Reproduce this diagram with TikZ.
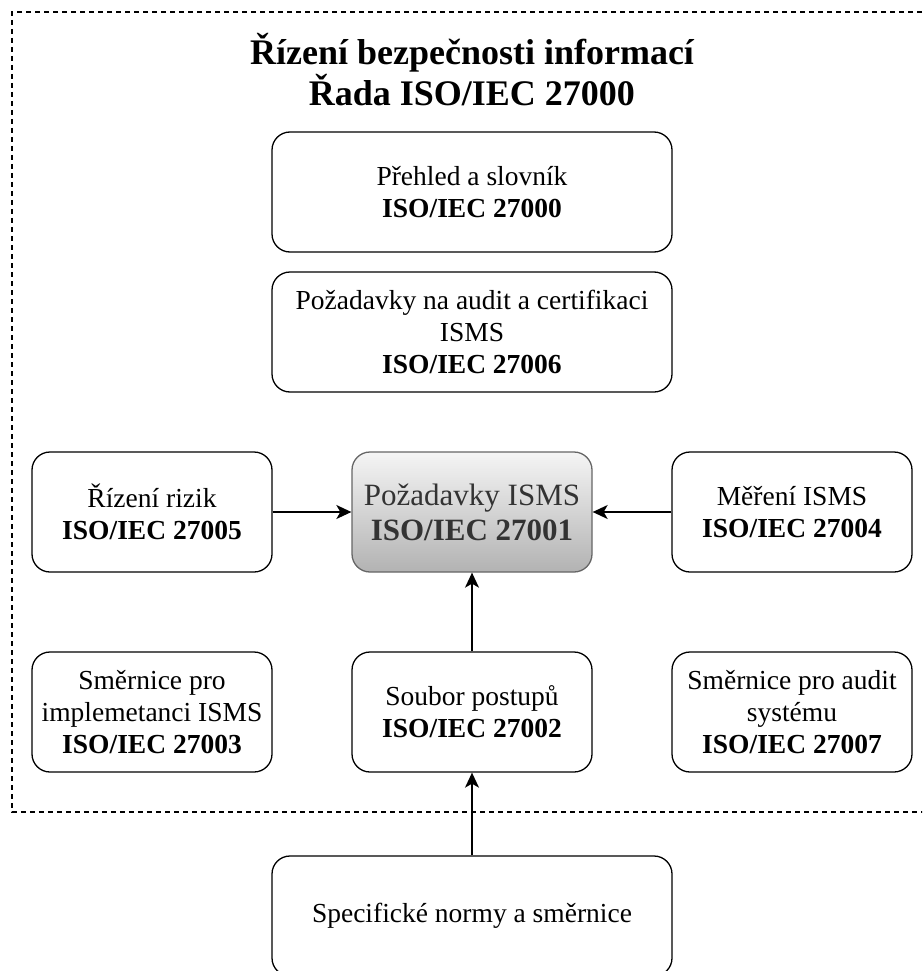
\documentclass[tikz,border=0pt]{standalone}
\usepackage{fontspec}
\setmainfont{Liberation Serif}
\usetikzlibrary{arrows.meta}
\definecolor{framegray}{HTML}{666666}
\definecolor{textgray}{HTML}{333333}
\begin{document}
\begin{tikzpicture}[x=1pt,y=-1pt,
  stdbox/.style={draw=black, line width=1.3pt, rounded corners=18pt,
    minimum width=240pt, minimum height=120pt, align=center, inner sep=0pt,
    font=\fontsize{27.5}{32}\selectfont},
  widebox/.style={stdbox, minimum width=400pt},
  corebox/.style={draw=framegray, line width=1.3pt, rounded corners=18pt,
    minimum width=240pt, minimum height=120pt, align=center, inner sep=0pt,
    top color=black!4, bottom color=black!30, text=textgray,
    font=\fontsize{31}{35}\selectfont},
  link/.style={line width=1.5pt, -{Stealth[length=15pt,width=14pt,inset=4pt]}},
  groupframe/.style={line width=1.8pt, dash pattern=on 5pt off 4pt}]
\clip (0,0) rectangle (922,971);
\fill[white] (0,0) rectangle (922,971);

% dashed group frame (its right edge lies past the page)
\draw[groupframe] (940,12) -- (12,12) -- (12,812) -- (940,812);

% heading
\node[align=center, font=\fontsize{36}{41}\selectfont\bfseries] (title) at (472,70)
  {Řízení bezpečnosti informací\\Řada ISO/IEC 27000};

% boxes
\node[widebox] (overview) at (472,192) {Přehled a slovník\\\textbf{ISO/IEC 27000}};
\node[widebox] (audit) at (472,332) {Požadavky na audit a certifikaci\\ISMS\\\textbf{ISO/IEC 27006}};
\node[stdbox] (risk) at (152,512) {Řízení rizik\\\textbf{ISO/IEC 27005}};
\node[corebox] (core) at (472,512) {Požadavky ISMS\\\textbf{ISO/IEC 27001}};
\node[stdbox] (measure) at (792,512) {Měření ISMS\\\textbf{ISO/IEC 27004}};
\node[stdbox] (impl) at (152,712) {Směrnice pro\\implemetanci ISMS\\\textbf{ISO/IEC 27003}};
\node[stdbox] (practice) at (472,712) {Soubor postupů\\\textbf{ISO/IEC 27002}};
\node[stdbox] (sysaudit) at (792,712) {Směrnice pro audit\\systému\\\textbf{ISO/IEC 27007}};
\node[widebox] (specific) at (472,916) {Specifické normy a směrnice};

% connectors
\draw[link] (risk) -- (core);
\draw[link] (measure) -- (core);
\draw[link] (practice) -- (core);
\draw[link] (specific) -- (practice);
\end{tikzpicture}
\end{document}
